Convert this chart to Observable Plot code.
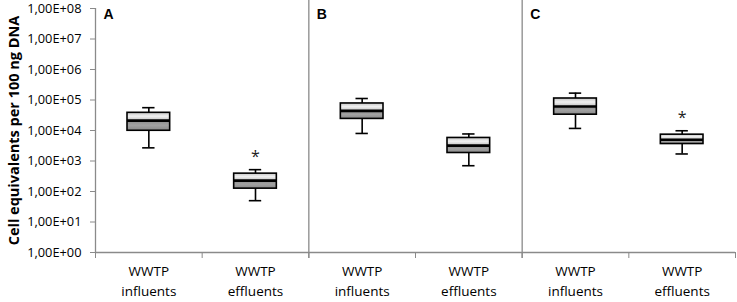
<!DOCTYPE html>
<html>
<head>
<meta charset="utf-8">
<script src="https://cdn.jsdelivr.net/npm/d3@7"></script>
<script src="https://cdn.jsdelivr.net/npm/@observablehq/plot@0.6"></script>
<style>
  html, body { margin: 0; padding: 0; background: #fff; }
</style>
</head>
<body>
<div id="chart"></div>
<script>
// ---- data ----
const panels = ["A", "B", "C"];
const categories = ["WWTP influents", "WWTP effluents", "WWTP influents", "WWTP effluents", "WWTP influents", "WWTP effluents"];
const whiskerMin = [2700, 50, 8000, 700, 11700, 1700];
const quartile1 = [9800, 124, 24000, 1830, 33000, 3600];
const medians = [21000, 227, 44000, 3200, 61000, 5000];
const quartile3 = [38000, 385, 77000, 5700, 112000, 7300];
const whiskerMax = [56000, 520, 112000, 7700, 168000, 9800];
const significant = [false, true, false, false, false, true];
const yTicks = [1, 1e1, 1e2, 1e3, 1e4, 1e5, 1e6, 1e7, 1e8];
const yTitle = "Cell equivalents per 100 ng DNA";

const idx = categories.map((_, i) => i);
const gray = "#8a8a8a";
const boxHalf = 0.2;
const capHalf = 0.058;

function defsMark() {
  const ns = "http://www.w3.org/2000/svg";
  const defs = document.createElementNS(ns, "defs");
  defs.innerHTML = `
    <linearGradient id="gUp" x1="0" y1="0" x2="0" y2="1">
      <stop offset="0" stop-color="#c4c4c4"/>
      <stop offset="0.5" stop-color="#f0f0f0"/>
      <stop offset="1" stop-color="#c4c4c4"/>
    </linearGradient>
    <linearGradient id="gLo" x1="0" y1="0" x2="0" y2="1">
      <stop offset="0" stop-color="#8a8a8a"/>
      <stop offset="0.5" stop-color="#a2a2a2"/>
      <stop offset="1" stop-color="#8a8a8a"/>
    </linearGradient>`;
  return defs;
}

const chart = Plot.plot({
  width: 737,
  height: 302,
  marginLeft: 95,
  marginRight: 2,
  marginTop: 8,
  marginBottom: 50,
  x: {type: "linear", domain: [0, categories.length], axis: null},
  y: {type: "log", domain: [yTicks[0], yTicks[yTicks.length - 1]], axis: null},
  style: {fontFamily: "'Open Sans', sans-serif", fontSize: "13px", color: "#000", background: "#fff", overflow: "visible"},
  marks: [
    defsMark,
    // separators between panels
    Plot.ruleX(panels.slice(1).map((_, i) => 2 * (i + 1)), {y1: 10 ** -0.2, y2: 10 ** 8.3, stroke: gray, strokeWidth: 1.3}),
    // y axis line and ticks
    Plot.ruleX([0], {y1: yTicks[0], y2: yTicks[yTicks.length - 1], stroke: gray, strokeWidth: 1.3}),
    Plot.axisY({
      ticks: yTicks,
      tickSize: 5,
      tickPadding: 9,
      stroke: gray,
      fill: "#000",
      fontSize: 12.8,
      label: null,
      tickFormat: d => "1,00E+" + String(Math.round(Math.log10(d))).padStart(2, "0")
    }),
    // x axis line and ticks
    Plot.ruleY([yTicks[0]], {x1: 0, x2: categories.length, stroke: gray, strokeWidth: 1.3}),
    Plot.axisX({
      ticks: d3.range(0, categories.length + 1),
      tickSize: 6,
      stroke: gray,
      tickFormat: () => "",
      label: null
    }),
    // category labels
    Plot.text(categories, {
      x: (d, i) => i + 0.5,
      y: () => yTicks[0],
      dy: 9,
      lineAnchor: "top",
      lineHeight: 1.48,
      text: d => d.replace(" ", "\n"),
      fontSize: 13.5
    }),
    // whiskers
    Plot.ruleX(idx, {x: i => i + 0.5, y1: i => quartile3[i], y2: i => whiskerMax[i], stroke: "#000", strokeWidth: 1.6}),
    Plot.ruleX(idx, {x: i => i + 0.5, y1: i => quartile1[i], y2: i => whiskerMin[i], stroke: "#000", strokeWidth: 1.6}),
    Plot.ruleY(idx, {y: i => whiskerMax[i], x1: i => i + 0.5 - capHalf, x2: i => i + 0.5 + capHalf, stroke: "#000", strokeWidth: 1.6}),
    Plot.ruleY(idx, {y: i => whiskerMin[i], x1: i => i + 0.5 - capHalf, x2: i => i + 0.5 + capHalf, stroke: "#000", strokeWidth: 1.6}),
    // box halves
    Plot.rect(idx, {x1: i => i + 0.5 - boxHalf, x2: i => i + 0.5 + boxHalf, y1: i => medians[i], y2: i => quartile3[i], fill: "url(#gUp)"}),
    Plot.rect(idx, {x1: i => i + 0.5 - boxHalf, x2: i => i + 0.5 + boxHalf, y1: i => quartile1[i], y2: i => medians[i], fill: "url(#gLo)"}),
    Plot.rect(idx, {x1: i => i + 0.5 - boxHalf, x2: i => i + 0.5 + boxHalf, y1: i => quartile1[i], y2: i => quartile3[i], fill: "none", stroke: "#000", strokeWidth: 1.6}),
    // medians
    Plot.ruleY(idx, {y: i => medians[i], x1: i => i + 0.5 - boxHalf, x2: i => i + 0.5 + boxHalf, stroke: "#000", strokeWidth: 2.6}),
    // significance asterisks
    Plot.text(idx.filter(i => significant[i]), {x: i => i + 0.5, y: i => whiskerMax[i], dy: -13, text: () => "*", fontSize: 16, fill: "#222"}),
    // panel letters
    Plot.text(panels, {x: (d, i) => 2 * i, frameAnchor: "top", dx: 8, dy: 1, textAnchor: "start", lineAnchor: "top", text: d => d, fontWeight: "bold", fontSize: 14, fontFamily: "'Liberation Sans', Arial, sans-serif"}),
    // y axis title
    Plot.text([yTitle], {frameAnchor: "left", dx: -81, rotate: -90, textAnchor: "middle", text: d => d, fontWeight: "bold", fontSize: 14.5})
  ]
});
document.getElementById("chart").appendChild(chart);
</script>
</body>
</html>
